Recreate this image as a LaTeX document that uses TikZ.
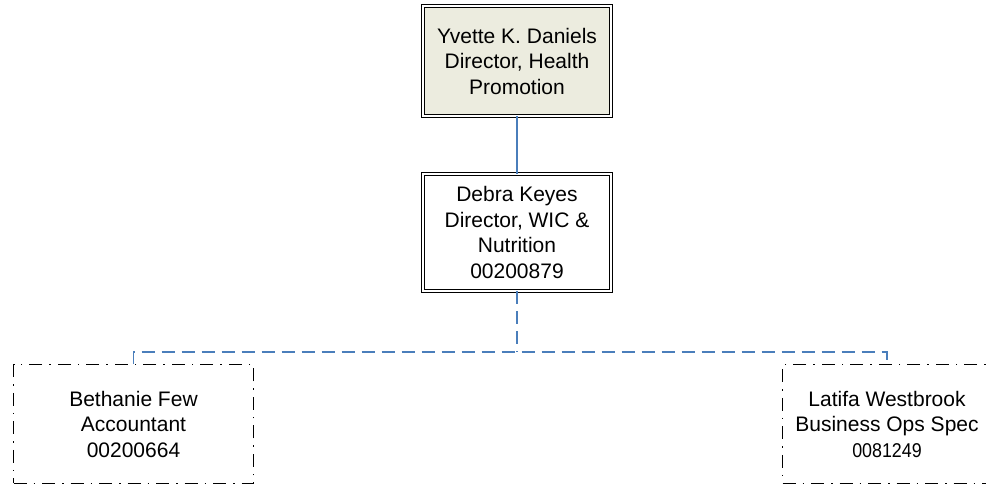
\documentclass[tikz,border=0pt]{standalone}
\usepackage{fontspec}
\setmainfont{Liberation Sans}
\definecolor{boxfill}{HTML}{ECECDF}
\definecolor{conn}{HTML}{4A7EBB}
\begin{document}
\begin{tikzpicture}[x=1pt,y=-1pt,
  every node/.style={font=\fontsize{21}{25.5}\selectfont, align=center, inner sep=0pt},
  mgrbox/.style={draw=black, line width=1.2pt, double=white, double distance=1.8pt, minimum width=187.6pt},
  staffbox/.style={draw=black, line width=1.3pt, dash pattern=on 13pt off 7pt on 1.5pt off 7pt, minimum height=118.7pt},
  solidconn/.style={draw=conn, line width=1.3pt},
  dashconn/.style={draw=conn, line width=1.8pt, dash pattern=on 13pt off 7pt}]
\clip (0,0) rectangle (986,485);
\node[mgrbox, fill=boxfill, minimum height=109.6pt] (yd) at (517,61) {Yvette K. Daniels\\Director, Health\\Promotion};
\node[mgrbox, minimum height=116.6pt] (dk) at (517,232.5) {Debra Keyes\\Director, WIC \&\\Nutrition\\00200879};
\node[staffbox, minimum width=240pt] (bf) at (133.5,424) {Bethanie Few\\Accountant\\00200664};
\node[staffbox, minimum width=209pt] (lw) at (887,424) {Latifa Westbrook\\Business Ops Spec\\\scalebox{0.85}[0.95]{0081249}};
\coordinate (bus) at (517,352);
\draw[solidconn] (yd.south) -- (dk.north);
\draw[dashconn] (dk.south) -- (bus);
\draw[dashconn] (bf.north) |- (bus) -| (lw.north);
\end{tikzpicture}
\end{document}
